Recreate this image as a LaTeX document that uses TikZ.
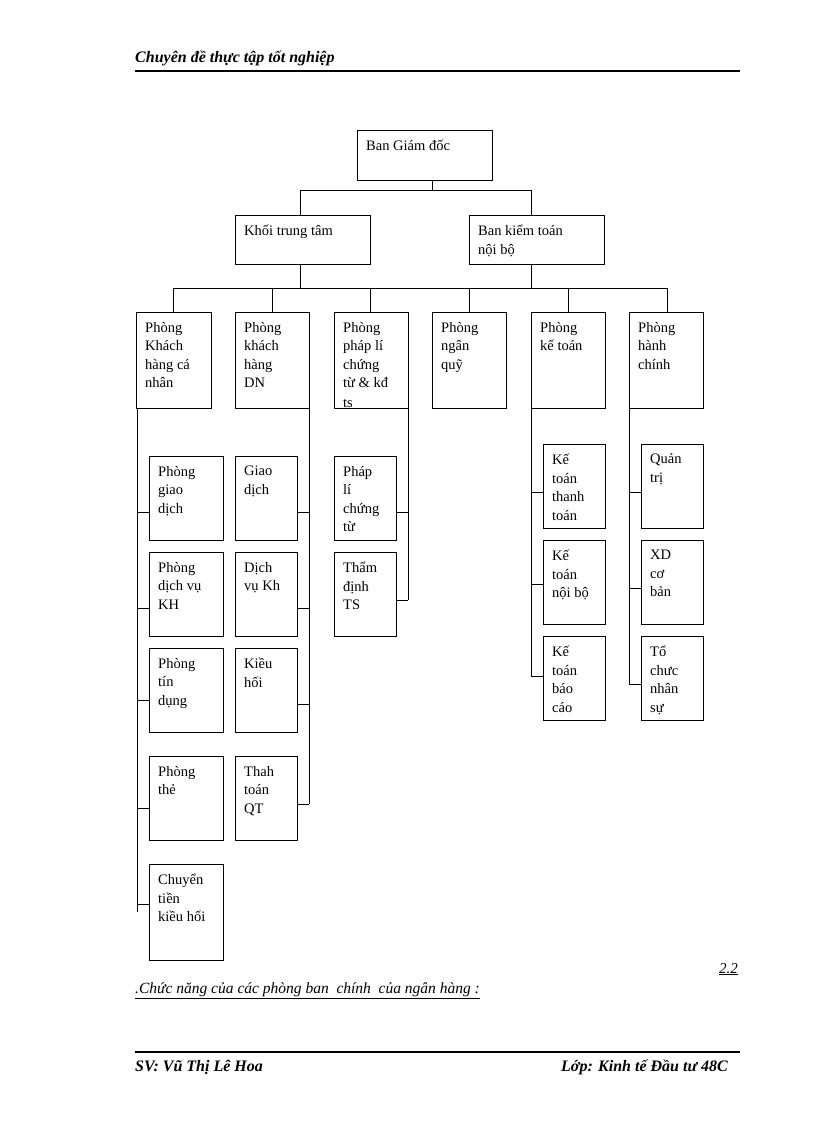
\documentclass[tikz,border=0pt]{standalone}
\usepackage{fontspec}
\setmainfont{Liberation Serif}
\begin{document}
\begin{tikzpicture}[x=1pt,y=-1pt,
 box/.style={draw,line width=0.8pt},
 txt/.style={anchor=north west,align=left,inner sep=0pt,font=\fontsize{14.5}{18.5}\selectfont},
 ln/.style={line width=0.8pt}]
\useasboundingbox (0,0) rectangle (816,1123);
\newcommand{\bx}[6]{\path[box] (#2,#3) rectangle (#4,#5); \coordinate (#1nw) at (#2,#3); \coordinate (#1se) at (#4,#5);
 \node[txt] (#1) at (#2+9,#3+10) {#6};}
% header
\node[anchor=south west,inner sep=0pt,font=\fontsize{16}{18}\selectfont\bfseries\itshape] (hd) at (135,66) {Chuyên đề thực tập tốt nghiệp};
\draw[line width=1.8pt] (135,71) -- (740,71);
% boxes
\bx{bgd}{357}{130}{492}{180}{Ban Giám đốc}
\bx{ktt}{235}{215}{370}{264}{Khối trung tâm}
\bx{bkt}{469}{215}{604}{264}{Ban kiểm toán\\nội bộ}
\draw[ln] (432,180) -- (432,190) (300,215) -- (300,190) -- (531,190) -- (531,215);
\draw[ln] (531,264) -- (531,288) (300,264) -- (300,288) (173,312) -- (173,288) -- (667,288) -- (667,312);
\foreach \x in {272,370,469,568} \draw[ln] (\x,288) -- (\x,312);
\bx{p1}{136}{312}{211}{408}{Phòng\\Khách\\hàng cá\\nhân}
\bx{p2}{235}{312}{309}{408}{Phòng\\khách\\hàng\\DN}
\bx{p3}{334}{312}{408}{408}{Phòng\\pháp lí\\chứng\\từ \& kđ}
\node[txt] (ts) at (343,399) {ts};
\path[fill=white] (335,408.5) rectangle (407,420);
\bx{p4}{432}{312}{506}{408}{Phòng\\ngân\\quỹ}
\bx{p5}{531}{312}{605}{408}{Phòng\\kế toán}
\bx{p6}{629}{312}{703}{408}{Phòng\\hành\\chính}
% col1
\draw[ln] (137,408) -- (137,912);
\bx{a1}{149}{456}{223}{540}{Phòng\\giao\\dịch}
\bx{a2}{149}{552}{223}{636}{Phòng\\dịch vụ\\KH}
\bx{a3}{149}{648}{223}{732}{Phòng\\tín\\dụng}
\bx{a4}{149}{756}{223}{840}{Phòng\\thẻ}
\bx{a5}{149}{864}{223}{960}{Chuyển\\tiền\\kiều hối}
\foreach \y in {512,608,700,808,904} \draw[ln] (137,\y) -- (149,\y);
% col2
\draw[ln] (309,408) -- (309,804);
\bx{b1}{235}{456}{297}{540}{Giao\\dịch}
\bx{b2}{235}{552}{297}{636}{Dịch\\vụ Kh}
\bx{b3}{235}{648}{297}{732}{Kiều\\hối}
\bx{b4}{235}{756}{297}{840}{Thah\\toán\\QT}
\foreach \y in {512,608,704,804} \draw[ln] (297,\y) -- (309,\y);
% col3
\draw[ln] (408,408) -- (408,600);
\bx{c1}{334}{456}{396}{540}{Pháp\\lí\\chứng\\từ}
\bx{c2}{334}{552}{396}{636}{Thẩm\\định\\TS}
\foreach \y in {512,600} \draw[ln] (396,\y) -- (408,\y);
% col5
\draw[ln] (531,408) -- (531,676);
\bx{d1}{543}{444}{605}{528}{Kế\\toán\\thanh\\toán}
\bx{d2}{543}{540}{605}{624}{Kế\\toán\\nội bộ}
\bx{d3}{543}{636}{605}{720}{Kế\\toán\\báo\\cáo}
\foreach \y in {492,584,676} \draw[ln] (531,\y) -- (543,\y);
% col6
\draw[ln] (629,408) -- (629,684);
\bx{e1}{641}{444}{703}{528}{Quản\\trị}
\bx{e2}{641}{540}{703}{624}{XD\\cơ\\bản}
\bx{e3}{641}{636}{703}{720}{Tổ\\chưc\\nhân\\sự}
\foreach \y in {492,588,684} \draw[ln] (629,\y) -- (641,\y);
% footer texts
\node[anchor=base east,inner sep=0pt,font=\fontsize{15}{16}\selectfont\itshape] (s22) at (738,973) {\underline{2.2}};
\node[anchor=base west,inner sep=0pt,font=\fontsize{15.5}{16}\selectfont\itshape] (cap) at (135,993) {\underline{.Chức năng của các phòng ban\ \ chính\ \ của ngân hàng :}};
\draw[line width=1.8pt] (135,1052) -- (740,1052);
\node[anchor=base west,inner sep=0pt,font=\fontsize{16}{18}\selectfont\bfseries\itshape] (sv) at (135,1071) {SV: Vũ Thị Lê Hoa};
\node[anchor=base east,inner sep=0pt,font=\fontsize{16}{18}\selectfont\bfseries\itshape] (lop) at (728,1071) {Lớp: Kinh tế Đầu tư 48C};
\end{tikzpicture}
\end{document}
